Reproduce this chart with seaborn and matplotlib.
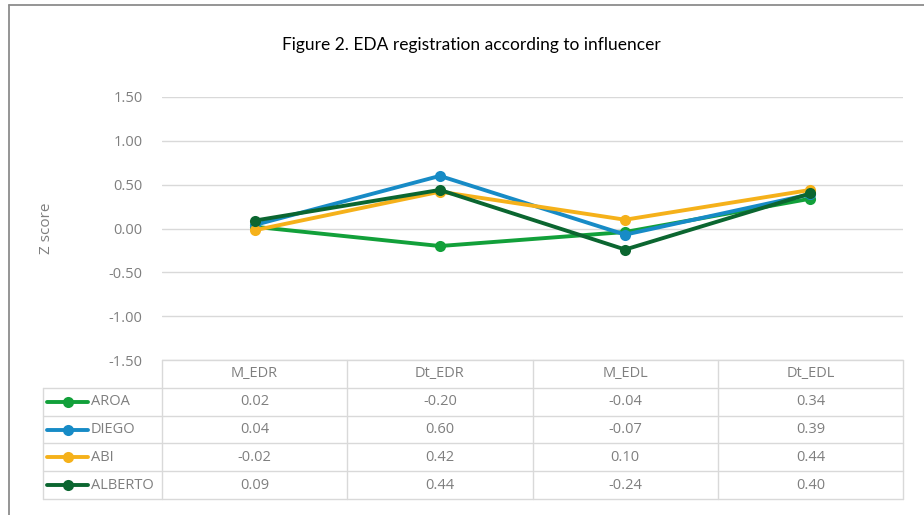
import pandas as pd
import numpy as np
import matplotlib
matplotlib.use("Agg")
import matplotlib.pyplot as plt
from matplotlib.lines import Line2D
import seaborn as sns

# data
metrics = ["M_EDR", "Dt_EDR", "M_EDL", "Dt_EDL"]
people = ["AROA", "DIEGO", "ABI", "ALBERTO"]
aroa = [0.02, -0.20, -0.04, 0.34]
diego = [0.04, 0.60, -0.07, 0.39]
abi = [-0.02, 0.42, 0.10, 0.44]
alberto = [0.09, 0.44, -0.24, 0.40]
yticks = [-1.5, -1.0, -0.5, 0.0, 0.5, 1.0, 1.5]

colors = {"AROA": "#12A03A", "DIEGO": "#178BC6", "ABI": "#F5B11A", "ALBERTO": "#0B6630"}

series = {"AROA": aroa, "DIEGO": diego, "ABI": abi, "ALBERTO": alberto}
df = pd.DataFrame([
    {"metric": m, "person": p, "z": v}
    for p in people for m, v in zip(metrics, series[p])
])

sns.set_style("white")
plt.rcParams["font.family"] = ["Open Sans", "DejaVu Sans"]
gray = "#7f7f7f"
grid_c = "#d9d9d9"

W, H = 924, 515
fig = plt.figure(figsize=(W / 100, H / 100), dpi=100)

# main plot area
ax = fig.add_axes([162 / W, 1 - 360 / H, 741 / W, 263 / H])
sns.lineplot(data=df, x="metric", y="z", hue="person", hue_order=people,
             palette=colors, marker="o", markersize=8, markeredgewidth=0,
             linewidth=2.8, sort=False, legend=False, ax=ax)
ax.set_xlim(-0.5, 3.5)
ax.set_ylim(-1.5, 1.5)
ax.set_yticks(yticks)
ax.set_yticklabels([f"{t:.2f}" for t in yticks], color=gray, fontsize=10.5)
ax.tick_params(axis="y", length=0, pad=14)
ax.set_xticks([])
ax.set_xlabel("")
ax.set_ylabel("")
for t in yticks:
    ax.axhline(t, color=grid_c, lw=1, zorder=0)
for s in ax.spines.values():
    s.set_visible(False)
fig.text(47 / W, 1 - 228 / H, "Z score", rotation=90, color=gray,
         fontsize=11, ha="center", va="center")

# data table below the chart
tax = fig.add_axes([43 / W, 1 - 499 / H, 860 / W, 139 / H])
x0 = -0.5 - 119 / 185.25
tax.set_xlim(x0, 3.5)
tax.set_ylim(5, 0)
tax.axis("off")
tax.plot([-0.5, 3.5], [0, 0], color=grid_c, lw=1, clip_on=False)
for r in range(1, 6):
    tax.plot([x0, 3.5], [r, r], color=grid_c, lw=1, clip_on=False)
for i in range(5):
    tax.plot([-0.5 + i, -0.5 + i], [0, 5], color=grid_c, lw=1, clip_on=False)
tax.plot([x0, x0], [1, 5], color=grid_c, lw=1, clip_on=False)

for i, m in enumerate(metrics):
    tax.text(i, 0.5, m, ha="center", va="center", color=gray, fontsize=10.5)
for r, p in enumerate(people):
    y = r + 1.5
    for i, v in enumerate(series[p]):
        tax.text(i, y, f"{v:.2f}", ha="center", va="center", color=gray, fontsize=10.5)
    tax.plot([x0 + 4 / 185.25, x0 + 45 / 185.25], [y, y], color=colors[p], lw=2.8,
             clip_on=False, solid_capstyle="round")
    tax.plot([x0 + 25 / 185.25], [y], "o", color=colors[p], markersize=8, mew=0, clip_on=False)
    tax.text(x0 + 48 / 185.25, y, p, ha="left", va="center", color=gray, fontsize=10.5)

# title
fig.text(471 / W, 1 - 45 / H, "Figure 2. EDA registration according to influencer",
         ha="center", va="center", fontsize=12.5, color="#000000", family=["Lato", "DejaVu Sans"])

# frame of the figure (top and left edges)
fig.add_artist(Line2D([9 / W, 1], [1 - 5 / H, 1 - 5 / H], color="#8c8c8c", lw=1.3))
fig.add_artist(Line2D([9 / W, 9 / W], [0, 1 - 5 / H], color="#8c8c8c", lw=1.3))

fig.savefig("out.png", dpi=100)
